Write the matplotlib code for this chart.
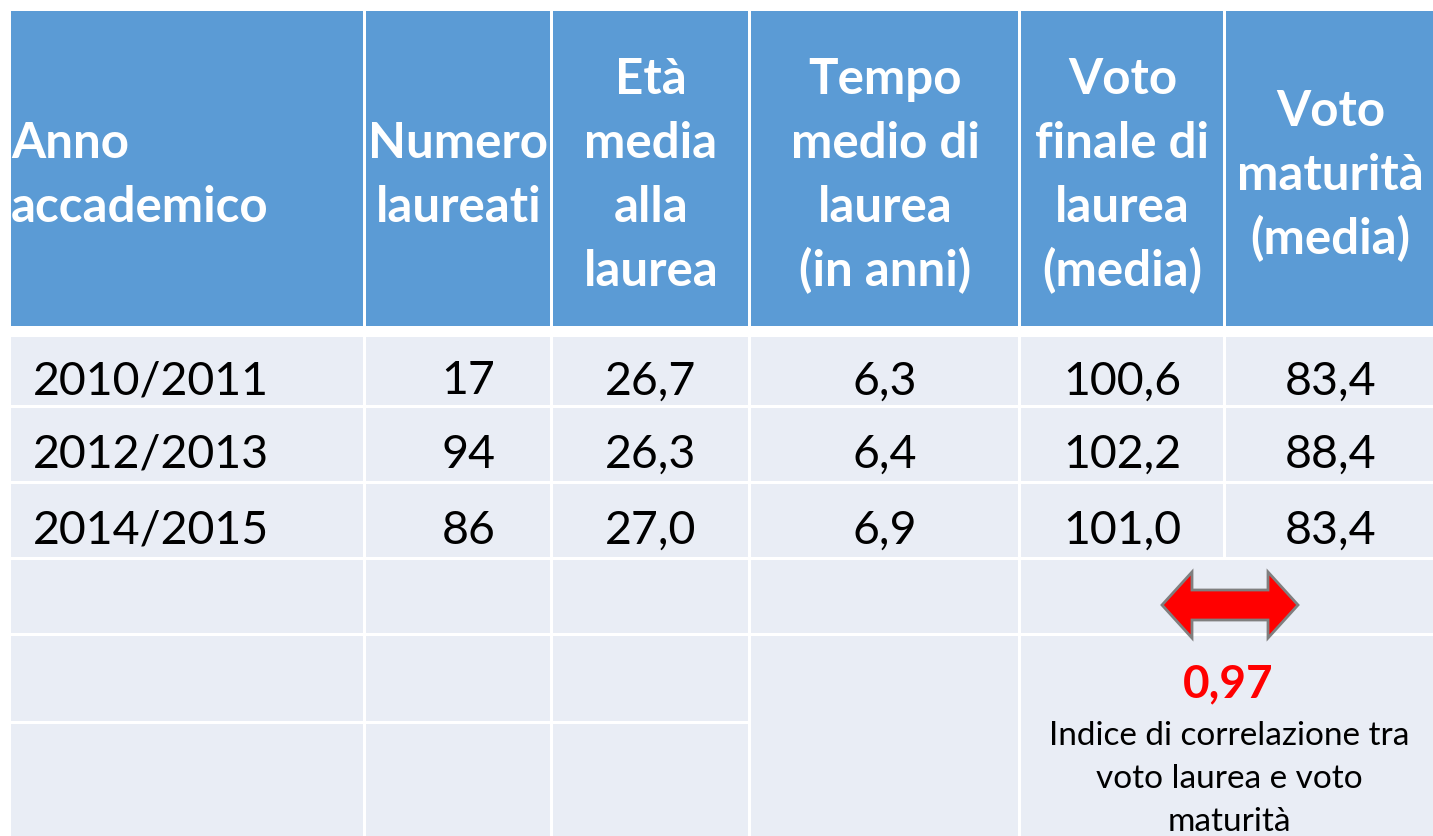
import matplotlib
matplotlib.use("Agg")
from matplotlib import pyplot as plt
from matplotlib.patches import Rectangle, Polygon

plt.rcParams['font.family'] = ['Lato', 'DejaVu Sans']

# table content
headers = [
    ["Anno", "accademico"],
    ["Numero", "laureati"],
    ["Età", "media", "alla", "laurea"],
    ["Tempo", "medio di", "laurea", "(in anni)"],
    ["Voto", "finale di", "laurea", "(media)"],
    ["Voto", "maturità", "(media)"],
]
anni = ["2010/2011", "2012/2013", "2014/2015"]
numero_laureati = ["17", "94", "86"]
eta_media = ["26,7", "26,3", "27,0"]
tempo_medio = ["6,3", "6,4", "6,9"]
voto_laurea = ["100,6", "102,2", "101,0"]
voto_maturita = ["83,4", "88,4", "83,4"]
correlazione = "0,97"
nota = ["Indice di correlazione tra", "voto laurea e voto", "maturità"]

# layout (pixels)
W, H = 1433, 837
col_edges = [10, 365, 552, 750, 1020, 1225, 1436]
head_top, head_bot = 12, 327
row_edges = [336, 407, 483, 559, 635, 723, 840]
HEAD_COLOR = '#5B9BD5'
CELL_COLOR = '#E9EDF5'
GAP = 1.5

fig = plt.figure(figsize=(W / 100, H / 100), dpi=100)
ax = fig.add_axes([0, 0, 1, 1])
ax.set_xlim(0, W)
ax.set_ylim(H, 0)
ax.axis('off')


def cell(c0, c1, r0, r1, color, y_edges):
    x0, x1 = col_edges[c0], col_edges[c1]
    y0, y1 = y_edges[r0], y_edges[r1]
    ax.add_patch(Rectangle((x0 + GAP, y0 + GAP), x1 - x0 - 2 * GAP, y1 - y0 - 2 * GAP,
                           facecolor=color, edgecolor='none', zorder=1))


# header cells
for c in range(6):
    cell(c, c + 1, 0, 1, HEAD_COLOR, [head_top - GAP, head_bot + GAP])

# body cells, with merged regions at the bottom
for r in range(4):
    for c in range(6):
        if r == 3 and c == 5:
            continue
        if r == 3 and c == 4:
            cell(4, 6, 3, 4, CELL_COLOR, row_edges)
        else:
            cell(c, c + 1, r, r + 1, CELL_COLOR, row_edges)
for c in range(3):
    cell(c, c + 1, 4, 5, CELL_COLOR, row_edges)
    cell(c, c + 1, 5, 6, CELL_COLOR, row_edges)
cell(3, 4, 4, 6, CELL_COLOR, row_edges)
cell(4, 6, 4, 6, CELL_COLOR, row_edges)

# header text
pitch = 64
for c, lines in enumerate(headers):
    n = len(lines)
    if c == 0:
        x, ha = col_edges[0] + 1, 'left'
    else:
        x, ha = (col_edges[c] + col_edges[c + 1]) / 2, 'center'
    for i, line in enumerate(lines):
        y = 190 + (i - (n - 1) / 2) * pitch
        ax.text(x, y, line, color='white', fontsize=35.5, fontweight='bold',
                ha=ha, va='baseline', zorder=3)

# body text
columns = [anni, numero_laureati, eta_media, tempo_medio, voto_laurea, voto_maturita]
for c, values in enumerate(columns):
    for r, v in enumerate(values):
        y = (row_edges[r] + row_edges[r + 1]) / 2 + 23
        if c == 0:
            ax.text(col_edges[0] + 23, y, v, fontsize=33.5, ha='left', va='baseline', zorder=3)
        else:
            x = (col_edges[c] + col_edges[c + 1]) / 2
            if c == 1:
                x += 10
            ax.text(x, y, v, fontsize=33.5, ha='center', va='baseline', zorder=3)

# double arrow between the last two columns
cx, cy = 1230, 606
half_len, head_len, head_h, shaft_h = 68, 30, 33, 15
arrow = [
    (cx - half_len, cy), (cx - half_len + head_len, cy - head_h),
    (cx - half_len + head_len, cy - shaft_h), (cx + half_len - head_len, cy - shaft_h),
    (cx + half_len - head_len, cy - head_h), (cx + half_len, cy),
    (cx + half_len - head_len, cy + head_h), (cx + half_len - head_len, cy + shaft_h),
    (cx - half_len + head_len, cy + shaft_h), (cx - half_len + head_len, cy + head_h),
]
ax.add_patch(Polygon(arrow, closed=True, facecolor='#FF0000', edgecolor='#7F7F7F',
                     linewidth=2, zorder=4))

ax.text(1228, 697, correlazione, color='#FF0000', fontsize=33, fontweight='bold',
        ha='center', va='baseline', zorder=3)
for i, line in enumerate(nota):
    ax.text(1229, 745 + i * 43, line, fontsize=24, ha='center', va='baseline', zorder=3)

fig.savefig('out.png', dpi=100)
